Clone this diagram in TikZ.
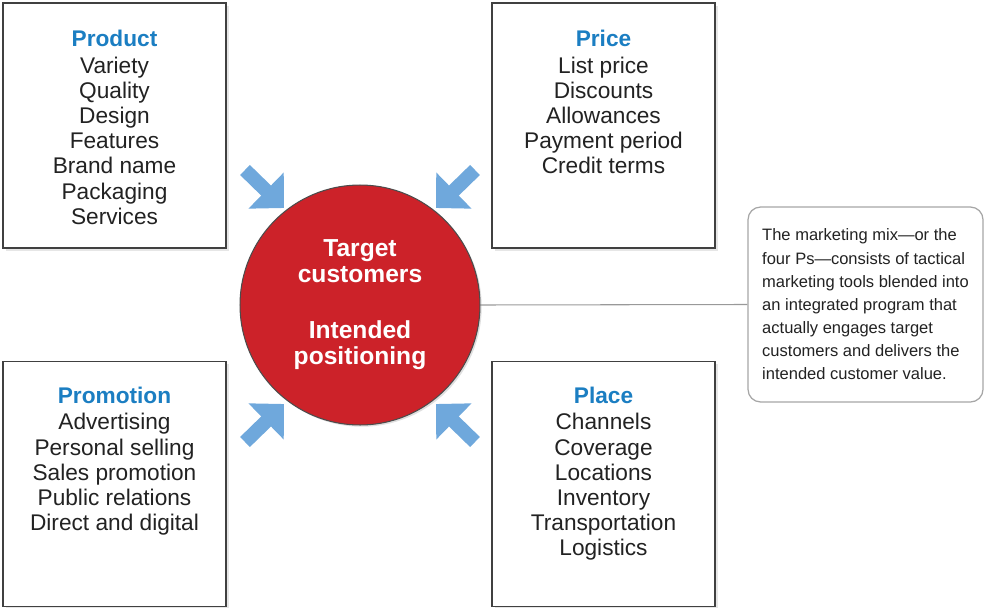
\documentclass[tikz,border=0pt]{standalone}
\usepackage{fontspec}
\setmainfont{Liberation Sans}
\usetikzlibrary{arrows.meta,shadows}
\definecolor{mixblue}{HTML}{1B7EC2}
\definecolor{arrowblue}{HTML}{6FA8DC}
\definecolor{targetred}{HTML}{CC2229}
\definecolor{itemgray}{HTML}{222222}

\begin{document}
\begin{tikzpicture}[x=0.02cm, y=-0.02cm,
  pbox/.style={draw=black!75, line width=0.9pt, fill=white, minimum width=4.46cm, minimum height=4.9cm,
    drop shadow={opacity=0.2, shadow xshift=1.5pt, shadow yshift=-1.5pt}},
  plist/.style={anchor=north, inner sep=0pt, align=center, text=itemgray, font=\fontsize{12.9}{14.3}\selectfont},
  mixarrow/.style={arrowblue, line width=2.8mm, -{Triangle[length=5mm,width=9.8mm]}}]
\useasboundingbox (0,0) rectangle (984,608);

% the four Ps
\node[pbox] (prodbox) at (114.5,125.5) {};
\node[pbox] (pricebox) at (603.5,125.5) {};
\node[pbox] (promobox) at (114.5,484) {};
\node[pbox] (placebox) at (603.5,484) {};

\node[plist] (prodtxt) at ([yshift=-0.55cm]prodbox.north)
  {\textcolor{mixblue}{\textbf{Product}}\\[1pt]Variety\\Quality\\Design\\Features\\Brand name\\Packaging\\Services};
\node[plist] (pricetxt) at ([yshift=-0.55cm]pricebox.north)
  {\textcolor{mixblue}{\textbf{Price}}\\[1pt]List price\\Discounts\\Allowances\\Payment period\\Credit terms};
\node[plist] (promotxt) at ([yshift=-0.51cm]promobox.north)
  {\textcolor{mixblue}{\textbf{Promotion}}\\[1pt]Advertising\\Personal selling\\Sales promotion\\Public relations\\Direct and digital};
\node[plist] (placetxt) at ([yshift=-0.51cm]placebox.north)
  {\textcolor{mixblue}{\textbf{Place}}\\[1pt]Channels\\Coverage\\Locations\\Inventory\\Transportation\\Logistics};

% centre
\node[circle, fill=targetred, draw=black!70, line width=0.6pt, minimum size=4.8cm, text=white,
  align=center, font=\bfseries\fontsize{14}{14.8}\selectfont,
  drop shadow={opacity=0.25, shadow xshift=1pt, shadow yshift=-1pt}] (target) at (360,305)
  {Target\\customers\\[0.6cm]Intended\\positioning};

% note
\node[draw=black!35, line width=0.7pt, rounded corners=0.25cm, fill=white, minimum width=4.7cm,
  minimum height=3.9cm, align=left, text=itemgray, font=\fontsize{9.4}{13.2}\selectfont] (note) at (865.5,304.5)
  {The marketing mix\textemdash or the\\four Ps\textemdash consists of tactical\\marketing tools blended into\\an integrated program that\\actually engages target\\customers and delivers the\\intended customer value.};
\draw[black!40, line width=0.6pt] (target.east) -- (note.west);

% arrows
\coordinate (a1s) at (245,170); \coordinate (a1e) at (284,208);
\coordinate (a2s) at (475,170); \coordinate (a2e) at (436,208);
\coordinate (a3s) at (245,442); \coordinate (a3e) at (284,404);
\coordinate (a4s) at (475,442); \coordinate (a4e) at (436,404);
\draw[mixarrow] (a1s) -- (a1e);
\draw[mixarrow] (a2s) -- (a2e);
\draw[mixarrow] (a3s) -- (a3e);
\draw[mixarrow] (a4s) -- (a4e);
\end{tikzpicture}
\end{document}
